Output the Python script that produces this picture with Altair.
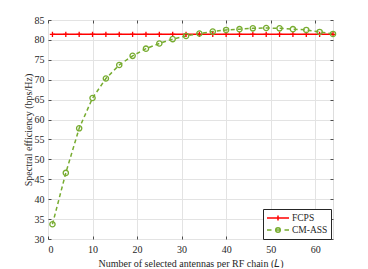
import altair as alt
import pandas as pd

x_vals = [1, 4, 7, 10, 13, 16, 19, 22, 25, 28, 31, 34, 37, 40, 43, 46, 49, 52, 55, 58, 61, 64]
fcps = [81.4, 81.4, 81.4, 81.4, 81.4, 81.4, 81.4, 81.4, 81.4, 81.4, 81.4,
        81.4, 81.4, 81.4, 81.4, 81.4, 81.4, 81.4, 81.4, 81.4, 81.4, 81.4]
cmass = [33.7, 46.6, 57.8, 65.4, 70.3, 73.7, 76.0, 77.8, 79.1, 80.2, 81.0,
         81.6, 82.1, 82.5, 82.7, 82.9, 83.0, 82.9, 82.7, 82.5, 82.0, 81.5]
series_names = ["FCPS", "CM-ASS"]
colors = ["#FF0000", "#77AC30"]
x_ticks = [0, 10, 20, 30, 40, 50, 60]
y_ticks = [30, 35, 40, 45, 50, 55, 60, 65, 70, 75, 80, 85]

df_f = pd.DataFrame({"x": x_vals, "y": fcps, "series": "FCPS"})
df_c = pd.DataFrame({"x": x_vals, "y": cmass, "series": "CM-ASS"})
df_all = pd.concat([df_f, df_c], ignore_index=True)

FONT = "Liberation Serif"
AX = "#262626"

xs = alt.Scale(domain=[0, 64], nice=False, zero=False)
ys = alt.Scale(domain=[30, 85], nice=False, zero=False)
cs = alt.Scale(domain=series_names, range=colors)

PLUS = "M-1,0L1,0M0,-1L0,1"
LEG_F = "M-2.2,0L2.2,0M0,-0.5L0,0.5"
LEG_C = ("M-2.2,0L-1.3,0M1.3,0L2.2,0"
         "M0.46,0A0.46,0.46 0 1 1 -0.46,0A0.46,0.46 0 1 1 0.46,0M-0.46,0L0.46,0")

def axx(**kw):
    return alt.X("x:Q", scale=xs, **kw)

def axy(**kw):
    return alt.Y("y:Q", scale=ys, **kw)

grid_layer = alt.Chart(df_all).mark_point(opacity=0).encode(
    x=axx(axis=alt.Axis(values=x_ticks, grid=True, gridColor="#e3e3e3", tickSize=0,
                        domain=False, labelFont=FONT, labelFontSize=10, labelColor=AX,
                        labelPadding=5, title="Number of selected antennas per RF chain (𝐿)",
                        titleFont=FONT, titleFontSize=10, titleFontWeight="normal",
                        titleColor=AX, titlePadding=4)),
    y=axy(axis=alt.Axis(values=y_ticks, grid=True, gridColor="#e3e3e3", tickSize=0,
                        domain=False, labelFont=FONT, labelFontSize=10, labelColor=AX,
                        labelPadding=4, title="Spectral efficiency (bps/Hz)",
                        titleFont=FONT, titleFontSize=10, titleFontWeight="normal",
                        titleColor=AX, titlePadding=1)),
)

def tick_axis(orient, vals):
    return alt.Axis(orient=orient, offset=-3, tickSize=3, values=vals, labels=False,
                    grid=False, domain=False, title=None, tickColor=AX, tickWidth=0.8)

ticks_a = alt.Chart(df_all).mark_point(opacity=0).encode(
    x=axx(axis=tick_axis("bottom", x_ticks)),
    y=axy(axis=tick_axis("left", y_ticks)),
)
ticks_b = alt.Chart(df_all).mark_point(opacity=0).encode(
    x=axx(axis=tick_axis("top", x_ticks)),
    y=axy(axis=tick_axis("right", y_ticks)),
)

line_f = alt.Chart(df_f).mark_line(strokeWidth=1.5).encode(
    x=axx(axis=None), y=axy(axis=None),
    color=alt.Color("series:N", scale=cs, legend=None),
)
line_c = alt.Chart(df_c).mark_line(strokeWidth=1.5, strokeDash=[4, 3]).encode(
    x=axx(axis=None), y=axy(axis=None),
    color=alt.Color("series:N", scale=cs, legend=None),
)
pts = alt.Chart(df_all).mark_point(filled=False, size=28, strokeWidth=1.3, opacity=1).encode(
    x=axx(axis=None), y=axy(axis=None),
    color=alt.Color("series:N", scale=cs, legend=None),
    shape=alt.Shape("series:N", scale=alt.Scale(domain=series_names, range=[PLUS, "circle"]),
                    legend=None),
)

stroke_expr = f"datum.value == '{series_names[0]}' ? '{colors[0]}' : '{colors[1]}'"
leg_spec = alt.Legend(title=None, orient="none", legendX=215, legendY=189,
                      symbolOpacity=1, symbolSize=100, symbolStrokeWidth=1.5,
                      symbolStrokeColor={"expr": stroke_expr},
                      symbolOffset=6, labelOffset=8,
                      labelFont=FONT, labelFontSize=9.5, labelColor=AX,
                      strokeColor=AX, fillColor="white", padding=3,
                      rowPadding=0, symbolFillColor="transparent")
leg = alt.Chart(df_all).mark_point(filled=False, opacity=0).encode(
    x=axx(axis=None), y=axy(axis=None),
    color=alt.Color("series:N", scale=cs, legend=leg_spec),
    shape=alt.Shape("series:N", scale=alt.Scale(domain=series_names, range=[LEG_F, LEG_C]),
                    legend=leg_spec),
)

chart = alt.layer(grid_layer, ticks_a, ticks_b, line_f, line_c, pts, leg).resolve_axis(
    x="independent", y="independent"
).resolve_scale(shape="independent").properties(
    width=285, height=219,
    autosize=alt.AutoSizeParams(type="none"),
    padding={"left": 40, "top": 12, "right": 27, "bottom": 29},
).configure_view(stroke=AX, strokeWidth=0.8).configure(background="white")

chart.save("out.html", embed_options={"renderer": "svg", "actions": False})
